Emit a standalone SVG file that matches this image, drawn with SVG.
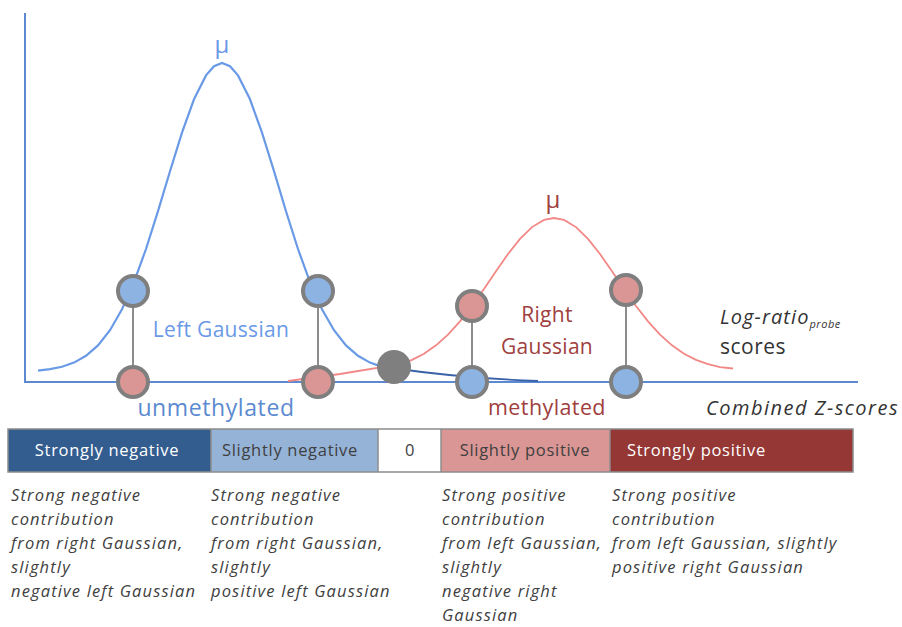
<svg xmlns="http://www.w3.org/2000/svg" width="902" height="627" viewBox="0 0 902 627">
<style>
.t{font-family:"Open Sans","Liberation Sans",sans-serif}
.desc{font-family:"Open Sans","Liberation Sans",sans-serif;font-style:italic;font-size:16.5px;letter-spacing:1.15px;fill:#404040}
.bar{font-family:"Open Sans","Liberation Sans",sans-serif;font-size:16.5px;letter-spacing:0.7px}
.blue{fill:#8db3e2;stroke:#7f7f7f;stroke-width:4}
.pink{fill:#d99694;stroke:#7f7f7f;stroke-width:4}
.link{stroke:#8c8c8c;stroke-width:2}
</style>
<rect width="902" height="627" fill="#ffffff"/>
<g id="axes" fill="none" stroke="#5b8ad0" stroke-width="2">
<line x1="25" y1="13" x2="25" y2="383"/>
<line x1="24" y1="382" x2="858" y2="382"/>
</g>
<g id="left-gaussian" fill="none" stroke="#6a9ae6" stroke-width="2.2">
<polyline points="38,370.6 50,369.2 62,366.8 74,362.6 86,355.8 98,345.4 110,330.2 122,309.3 134,282.1 146,249 158,211.2 170,171.2 182,132.6 194,99.3 206,75.4 214,66.2 222,63 230,66.2 238,75.4 250,99.3 262,132.6 274,171.2 286,211.2 298,249 310,282.1 322,309.3 334,330.2 346,345.4 358,355.8 370,362.6 382,366.8 392,368"/>
<path d="M392,368 Q460,378 538,381" stroke="#3a62a8" stroke-width="1.8"/>
</g>
<g id="right-gaussian" fill="none" stroke="#f28886" stroke-width="1.8">
<polyline points="288,381 340,374 400,364.2 412,359.9 424,353.7 436,345.3 448,334.6 460,321.4 472,306 484,288.9 496,271.2 508,254 520,238.9 532,227.1 544,219.9 554,218 564,219.9 576,227.1 588,238.9 600,254 612,271.2 624,288.9 636,306 648,321.4 660,334.6 672,345.3 684,353.7 696,359.9 708,364.2 720,367.2 733,368.5"/>
</g>
<g id="connectors">
<line class="link" x1="133" y1="291" x2="133" y2="382"/>
<line class="link" x1="318" y1="291" x2="318" y2="382"/>
<line class="link" x1="472" y1="306" x2="472" y2="382"/>
<line class="link" x1="626" y1="290" x2="626" y2="382"/>
</g>
<g id="node-left-top-1"><circle class="blue" cx="133" cy="291" r="15"/></g>
<g id="node-left-top-2"><circle class="blue" cx="318" cy="291" r="15"/></g>
<g id="node-left-bottom-1"><circle class="pink" cx="133" cy="382" r="15"/></g>
<g id="node-left-bottom-2"><circle class="pink" cx="318" cy="382" r="15"/></g>
<g id="node-right-top-1"><circle class="pink" cx="472" cy="306" r="15"/></g>
<g id="node-right-top-2"><circle class="pink" cx="626" cy="290" r="15"/></g>
<g id="node-right-bottom-1"><circle class="blue" cx="472" cy="382" r="15"/></g>
<g id="node-right-bottom-2"><circle class="blue" cx="626" cy="382" r="15"/></g>
<g id="node-intersection"><circle cx="394" cy="367" r="17" fill="#7f7f7f"/></g>
<g id="labels" class="t">
<text x="222" y="53" font-size="24" fill="#6a9ae6" text-anchor="middle">μ</text>
<text x="553" y="208" font-size="24" fill="#a0403e" text-anchor="middle">μ</text>
<text x="221" y="337" font-size="21" letter-spacing="0.3" fill="#6a9ae6" text-anchor="middle">Left Gaussian</text>
<text x="547" y="322" font-size="21" letter-spacing="0.3" fill="#a0403e" text-anchor="middle">Right</text>
<text x="547" y="354" font-size="21" letter-spacing="0.3" fill="#a0403e" text-anchor="middle">Gaussian</text>
<text x="216" y="416" font-size="23" letter-spacing="0.6" fill="#5b8ad0" text-anchor="middle">unmethylated</text>
<text x="547" y="415" font-size="21.5" letter-spacing="0.4" fill="#a0403e" text-anchor="middle">methylated</text>
<text x="720" y="324" font-size="20" letter-spacing="1.1" fill="#333333" font-style="italic">Log-ratio<tspan font-size="11" dy="4" letter-spacing="0.5">probe</tspan></text>
<text x="720" y="354" font-size="21" letter-spacing="0.5" fill="#333333">scores</text>
<text x="706" y="415" font-size="20" letter-spacing="1.5" fill="#333333" font-style="italic">Combined Z-scores</text>
</g>
<g id="scale-bar">
<rect x="8" y="429" width="203" height="43" fill="#335d8f"/>
<rect x="211" y="429" width="167" height="43" fill="#95b3d7"/>
<rect x="378" y="429" width="63" height="43" fill="#ffffff"/>
<rect x="441" y="429" width="169" height="43" fill="#d99694"/>
<rect x="610" y="429" width="243" height="43" fill="#953735"/>
<g stroke="#8c8c8c" stroke-width="1.5" fill="none">
<rect x="8" y="429" width="845" height="43"/>
<line x1="211" y1="429" x2="211" y2="472"/>
<line x1="378" y1="429" x2="378" y2="472"/>
<line x1="441" y1="429" x2="441" y2="472"/>
<line x1="610" y1="429" x2="610" y2="472"/>
</g>
<text class="bar" x="107" y="456" fill="#ffffff" text-anchor="middle">Strongly negative</text>
<text class="bar" x="290" y="456" fill="#404040" text-anchor="middle">Slightly negative</text>
<text class="bar" x="410" y="456" fill="#404040" text-anchor="middle">0</text>
<text class="bar" x="525" y="456" fill="#404040" text-anchor="middle">Slightly positive</text>
<text class="bar" x="627" y="456" fill="#ffffff">Strongly positive</text>
</g>
<g id="descriptions" class="desc">
<text x="11" y="501"><tspan x="11">Strong negative</tspan><tspan x="11" dy="24">contribution</tspan><tspan x="11" dy="24">from right Gaussian,</tspan><tspan x="11" dy="24">slightly</tspan><tspan x="11" dy="24">negative left Gaussian</tspan></text>
<text x="211" y="501"><tspan x="211">Strong negative</tspan><tspan x="211" dy="24">contribution</tspan><tspan x="211" dy="24">from right Gaussian,</tspan><tspan x="211" dy="24">slightly</tspan><tspan x="211" dy="24">positive left Gaussian</tspan></text>
<text x="442" y="501"><tspan x="442">Strong positive</tspan><tspan x="442" dy="24">contribution</tspan><tspan x="442" dy="24">from left Gaussian,</tspan><tspan x="442" dy="24">slightly</tspan><tspan x="442" dy="24">negative right</tspan><tspan x="442" dy="24">Gaussian</tspan></text>
<text x="612" y="501"><tspan x="612">Strong positive</tspan><tspan x="612" dy="24">contribution</tspan><tspan x="612" dy="24">from left Gaussian, slightly</tspan><tspan x="612" dy="24">positive right Gaussian</tspan></text>
</g>
</svg>
